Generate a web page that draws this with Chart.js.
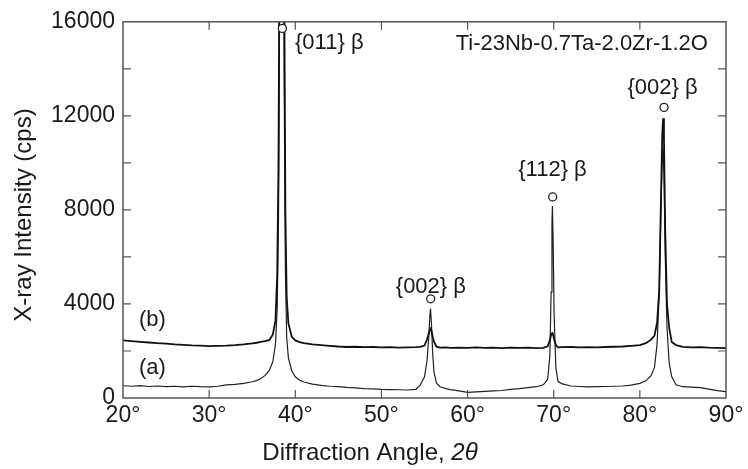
<!DOCTYPE html>
<html>
<head>
<meta charset="utf-8">
<script src="https://cdn.jsdelivr.net/npm/chart.js@4.4.1/dist/chart.umd.min.js"></script>
<style>
  html, body { margin: 0; padding: 0; background: #fff; }
  #wrap { width: 748px; height: 469px; }
</style>
</head>
<body>
<div id="wrap"><canvas id="xrd" width="748" height="469"></canvas></div>
<script>
// XRD pattern, Ti-23Nb-0.7Ta-2.0Zr-1.2O

const angles = [
  20, 21, 22, 23, 24, 25, 26, 27, 28, 29, 30, 31, 32, 33, 34, 35, 35.5, 36, 36.5, 37,
  37.4, 37.7, 37.9, 38.05, 38.15, 38.3, 38.45, 38.6, 38.7, 38.85, 39.0, 39.2, 39.6, 40, 40.5,
  41, 42, 43, 44, 45, 46, 47, 48, 49, 50, 51, 52, 53, 54, 54.5,
  55.0, 55.3, 55.5, 55.62, 55.7, 55.8, 55.95, 56.1, 56.4, 56.8, 57.5,
  58, 59, 60, 61, 62, 63, 64, 65, 66, 67, 68, 68.8,
  69.3, 69.55, 69.7, 69.8, 69.85, 69.92, 70.05, 70.25, 70.5,
  71, 72, 73, 74, 75, 76, 77, 78, 79, 80, 80.7, 81.3, 81.7,
  82.0, 82.25, 82.45, 82.6, 82.7, 82.8, 82.95, 83.15, 83.4, 83.7, 84.2,
  85, 86, 87, 88, 89, 90
];

// (a) lower pattern
const countsA = [
  520, 500, 530, 490, 510, 480, 500, 470, 500, 480, 470, 500, 560, 580, 620, 690, 740, 830, 960, 1180,
  1550, 2300, 3800, 7500, 14000, 30000, 45000, 28000, 14000, 5500, 2600, 1700, 1150, 900, 760,
  680, 590, 540, 500, 480, 450, 430, 400, 390, 370, 360, 350, 340, 370, 550,
  900, 1600, 2600, 3500, 3800, 3200, 1900, 1100, 630, 480, 400,
  360, 300, 240, 260, 280, 300, 320, 370, 400, 440, 480, 560,
  800, 1800, 4500, 7500, 8170, 7000, 3500, 1300, 700,
  600, 510, 490, 470, 480, 490, 500, 510, 550, 620, 730, 950, 1300,
  2300, 4500, 8000, 10300, 10500, 9500, 6000, 3000, 1500, 900, 560,
  480, 460, 440, 380, 310, 270
];

// (b) upper pattern
const countsB = [
  2450, 2420, 2390, 2360, 2330, 2310, 2280, 2260, 2240, 2230, 2210, 2220, 2230, 2250, 2280, 2320, 2350, 2390, 2420, 2470,
  2700, 3300, 5200, 10000, 18000, 40000, 60000, 40000, 19000, 8000, 4300, 3170, 2600, 2450, 2380,
  2330, 2280, 2250, 2220, 2190, 2170, 2180, 2160, 2170, 2150, 2160, 2140, 2150, 2160, 2170,
  2230, 2500, 2750, 2900, 2950, 2880, 2600, 2400, 2180, 2140, 2150,
  2130, 2140, 2130, 2150, 2130, 2140, 2120, 2140, 2130, 2140, 2120, 2130,
  2200, 2450, 2700, 2750, 2760, 2700, 2500, 2250, 2150,
  2160, 2170, 2150, 2160, 2150, 2170, 2180, 2190, 2220, 2250, 2330, 2480, 2650,
  3200, 4600, 8500, 11200, 11900, 11000, 7000, 4000, 3000, 2380, 2250,
  2170, 2150, 2160, 2140, 2130, 2120
];

// open circles over the beta peaks
const markerAngles = [38.5, 55.72, 69.88, 82.81];
const markerCounts = [15720, 4220, 8550, 12360];

const peakLabels = ['{011} β', '{002} β', '{112} β', '{002} β'];
const peakLabelAngles = [39.97, 55.74, 69.86, 82.63];
const peakLabelCounts = [15110, 4740, 9690, 13200];

const yTicks = [0, 4000, 8000, 12000, 16000];
const xTicks = [20, 30, 40, 50, 60, 70, 80, 90];

const FONT = '"Liberation Sans", Arial, Helvetica, sans-serif';
const INK = '#1a1a1a';

function toPoints(xs, ys) {
  return xs.map((x, i) => ({ x: x, y: ys[i] }));
}

// frame, inward ticks and all free text
const decorations = {
  id: 'decorations',
  afterDraw(chart) {
    const ctx = chart.ctx;
    const a = chart.chartArea;
    const xs = chart.scales.x, ys = chart.scales.y;
    ctx.save();

    // ticks
    ctx.strokeStyle = '#555';
    ctx.lineWidth = 1.2;
    ctx.beginPath();
    for (let v = 2000; v < 16000; v += 2000) {
      const py = ys.getPixelForValue(v);
      ctx.moveTo(a.left, py); ctx.lineTo(a.left + 8, py);
      ctx.moveTo(a.right, py); ctx.lineTo(a.right - 8, py);
    }
    for (let v = 30; v < 90; v += 10) {
      const px = xs.getPixelForValue(v);
      ctx.moveTo(px, a.bottom); ctx.lineTo(px, a.bottom - 8);
      ctx.moveTo(px, a.top); ctx.lineTo(px, a.top + 8);
    }
    ctx.stroke();

    // frame
    ctx.lineWidth = 1.5;
    ctx.strokeRect(a.left, a.top, a.right - a.left, a.bottom - a.top);

    // peak labels
    ctx.fillStyle = INK;
    ctx.font = '22px ' + FONT;
    ctx.textBaseline = 'middle';
    peakLabels.forEach((t, i) => {
      ctx.textAlign = i === 0 ? 'left' : 'center';
      ctx.fillText(t, xs.getPixelForValue(peakLabelAngles[i]), ys.getPixelForValue(peakLabelCounts[i]));
    });

    ctx.textAlign = 'right';
    ctx.fillText('Ti-23Nb-0.7Ta-2.0Zr-1.2O', xs.getPixelForValue(87.9), ys.getPixelForValue(15070));

    ctx.textAlign = 'center';
    ctx.fillText('(b)', xs.getPixelForValue(23.42), ys.getPixelForValue(3340));
    ctx.fillText('(a)', xs.getPixelForValue(23.42), ys.getPixelForValue(1290));

    // x axis title, with italic 2θ
    ctx.font = '24px ' + FONT;
    const part1 = 'Diffraction Angle, ';
    const w1 = ctx.measureText(part1).width;
    ctx.font = 'italic 24px ' + FONT;
    const w2 = ctx.measureText('2θ').width;
    let sx = 370 - (w1 + w2) / 2;
    ctx.textAlign = 'left';
    ctx.font = '24px ' + FONT;
    ctx.fillText(part1, sx, 453);
    ctx.font = 'italic 24px ' + FONT;
    ctx.fillText('2θ', sx + w1, 453);

    // y axis title
    ctx.font = '24px ' + FONT;
    ctx.translate(24, 215);
    ctx.rotate(-Math.PI / 2);
    ctx.textAlign = 'center';
    ctx.fillText('X-ray Intensity (cps)', 0, 0);

    ctx.restore();
  }
};

new Chart(document.getElementById('xrd'), {
  type: 'scatter',
  data: {
    datasets: [
      {
        label: 'peaks',
        data: toPoints(markerAngles, markerCounts),
        pointStyle: 'circle',
        pointRadius: 4,
        pointBackgroundColor: '#fff',
        pointBorderColor: '#222',
        pointBorderWidth: 1.3,
        showLine: false
      },
      {
        label: '(b)',
        data: toPoints(angles, countsB),
        showLine: true,
        borderColor: '#111',
        borderWidth: 1.8,
        pointRadius: 0,
        tension: 0
      },
      {
        label: '(a)',
        data: toPoints(angles, countsA),
        showLine: true,
        borderColor: '#222',
        borderWidth: 1.2,
        pointRadius: 0,
        tension: 0
      }
    ]
  },
  options: {
    responsive: false,
    animation: false,
    events: [],
    layout: { padding: { left: 0, right: 22, top: 20, bottom: 0 } },
    plugins: { legend: { display: false }, tooltip: { enabled: false } },
    scales: {
      x: {
        type: 'linear',
        min: 20, max: 90,
        afterBuildTicks: s => { s.ticks = xTicks.map(v => ({ value: v })); },
        afterFit: s => { s.height = 71; },
        grid: { display: false, drawTicks: false },
        border: { display: false },
        ticks: {
          padding: 4,
          color: INK,
          font: { family: FONT, size: 23 },
          callback: v => v + '°'
        }
      },
      y: {
        min: 0, max: 16000,
        afterBuildTicks: s => { s.ticks = yTicks.map(v => ({ value: v })); },
        afterFit: s => { s.width = 123; },
        grid: { display: false, drawTicks: false },
        border: { display: false },
        ticks: {
          padding: 8,
          color: INK,
          font: { family: FONT, size: 23 },
          callback: v => String(v)
        }
      }
    }
  },
  plugins: [decorations]
});
</script>
</body>
</html>
